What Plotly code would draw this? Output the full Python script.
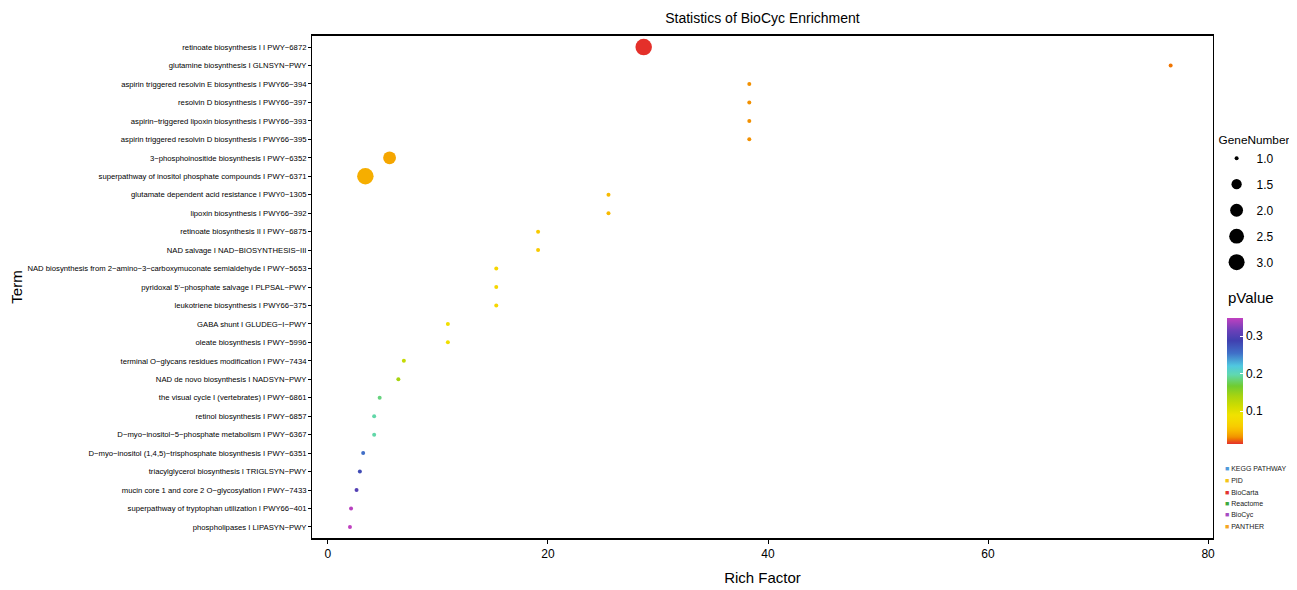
import plotly.graph_objects as go
import math

terms = [
    "retinoate biosynthesis I I PWY−6872",
    "glutamine biosynthesis I GLNSYN−PWY",
    "aspirin triggered resolvin E biosynthesis I PWY66−394",
    "resolvin D biosynthesis I PWY66−397",
    "aspirin−triggered lipoxin biosynthesis I PWY66−393",
    "aspirin triggered resolvin D biosynthesis I PWY66−395",
    "3−phosphoinositide biosynthesis I PWY−6352",
    "superpathway of inositol phosphate compounds I PWY−6371",
    "glutamate dependent acid resistance I PWY0−1305",
    "lipoxin biosynthesis I PWY66−392",
    "retinoate biosynthesis II I PWY−6875",
    "NAD salvage I NAD−BIOSYNTHESIS−III",
    "NAD biosynthesis from 2−amino−3−carboxymuconate semialdehyde I PWY−5653",
    "pyridoxal 5'−phosphate salvage I PLPSAL−PWY",
    "leukotriene biosynthesis I PWY66−375",
    "GABA shunt I GLUDEG−I−PWY",
    "oleate biosynthesis I PWY−5996",
    "terminal O−glycans residues modification I PWY−7434",
    "NAD de novo biosynthesis I NADSYN−PWY",
    "the visual cycle I (vertebrates) I PWY−6861",
    "retinol biosynthesis I PWY−6857",
    "D−myo−inositol−5−phosphate metabolism I PWY−6367",
    "D−myo−inositol (1,4,5)−trisphosphate biosynthesis I PWY−6351",
    "triacylglycerol biosynthesis I TRIGLSYN−PWY",
    "mucin core 1 and core 2 O−glycosylation I PWY−7433",
    "superpathway of tryptophan utilization I PWY66−401",
    "phospholipases I LIPASYN−PWY",
]
rich_factor = [28.7, 76.6, 38.3, 38.3, 38.3, 38.3, 5.6, 3.4, 25.5, 25.5,
               19.1, 19.1, 15.3, 15.3, 15.3, 10.9, 10.9, 6.9, 6.4, 4.7,
               4.2, 4.2, 3.2, 2.9, 2.6, 2.1, 2.0]
gene_number = [3, 1, 1, 1, 1, 1, 2, 3, 1, 1,
               1, 1, 1, 1, 1, 1, 1, 1, 1, 1,
               1, 1, 1, 1, 1, 1, 1]
p_value = [0.012, 0.025, 0.03, 0.03, 0.03, 0.03, 0.038, 0.042, 0.048, 0.048,
           0.058, 0.058, 0.07, 0.07, 0.07, 0.085, 0.085, 0.12, 0.14, 0.185,
           0.195, 0.195, 0.255, 0.28, 0.3, 0.345, 0.348]

size_breaks = [1.0, 1.5, 2.0, 2.5, 3.0]
databases = ["KEGG PATHWAY", "PID", "BioCarta", "Reactome", "BioCyc", "PANTHER"]
db_colors = ["#4F9ADA", "#F5C518", "#E3342F", "#3DAA3D", "#A64CC2", "#F5A623"]

def diam(g):
    return 4 + 12.5 * math.sqrt((g - 1) / 2.0)

colorscale = [
    [0.000, "#E4302A"],
    [0.025, "#EC5A18"],
    [0.040, "#F07800"],
    [0.055, "#F29200"],
    [0.080, "#F5A800"],
    [0.110, "#F8BC00"],
    [0.140, "#F8CC00"],
    [0.180, "#F5D800"],
    [0.230, "#F0E200"],
    [0.300, "#D0DC00"],
    [0.380, "#A8D410"],
    [0.460, "#70CC30"],
    [0.550, "#60D8B0"],
    [0.620, "#50C8E0"],
    [0.720, "#4070C8"],
    [0.820, "#4040B0"],
    [0.900, "#6A40B8"],
    [1.000, "#C040C0"],
]

FONT = "Liberation Sans, Arial, sans-serif"

fig = go.Figure()
fig.add_trace(go.Scatter(
    x=rich_factor, y=terms, mode="markers", showlegend=False,
    marker=dict(size=[diam(g) for g in gene_number], color=p_value,
                colorscale=colorscale, cmin=0.012, cmax=0.348, opacity=1,
                line=dict(width=0),
                colorbar=dict(tickvals=[0.1, 0.2, 0.3], ticktext=["0.1", "0.2", "0.3"],
                              thickness=16, lenmode="pixels", len=126,
                              x=1.016, xanchor="left", xpad=0,
                              y=0.3127, yanchor="middle", ypad=0, outlinewidth=0,
                              ticks="inside", ticklen=3, tickcolor="white",
                              tickfont=dict(size=12, family=FONT))),
))

for i, b in enumerate(size_breaks):
    fig.add_trace(go.Scatter(
        x=[None], y=[None], mode="markers", name=f"{b:.1f}",
        marker=dict(size=diam(b), color="black"), legend="legend",
        legendgroup=f"g{i}",
    ))

annotations = [dict(
    xref="paper", yref="paper", x=1.014, y=(538 - 297) / 502.0,
    xanchor="left", yanchor="middle", showarrow=False, text="pValue",
    font=dict(size=15, family=FONT, color="black"),
)]
for i, (name, col) in enumerate(zip(databases, db_colors)):
    annotations.append(dict(
        xref="paper", yref="paper", x=1.011, y=0.138 - i * 0.0232,
        xanchor="left", yanchor="middle", showarrow=False,
        text=f'<span style="color:{col}">■</span> {name}',
        font=dict(size=7, family=FONT, color="#222222"),
    ))

fig.update_layout(
    width=1289, height=582,
    margin=dict(l=304, r=84, t=28, b=52, autoexpand=False),
    paper_bgcolor="white", plot_bgcolor="white",
    font=dict(family=FONT, color="black"),
    title=dict(text="Statistics of BioCyc Enrichment", x=0.5853, xanchor="center",
               y=0.983, yanchor="middle", font=dict(size=14)),
    xaxis=dict(range=[-1.45, 80.45], tickvals=[0, 20, 40, 60, 80],
               showgrid=False, zeroline=False, showline=True, linecolor="black",
               linewidth=1.5, mirror=True, ticks="outside", ticklen=4,
               tickcolor="black", tickfont=dict(size=12), automargin=False,
               title=dict(text="Rich Factor", font=dict(size=15), standoff=12)),
    yaxis=dict(categoryorder="array", categoryarray=terms,
               range=[26.6, -0.6], showgrid=False, zeroline=False,
               showline=True, linecolor="black", linewidth=1, mirror=True,
               ticks="outside", ticklen=3, tickcolor="black",
               tickfont=dict(size=7.7), automargin=False,
               title=dict(text="Term", font=dict(size=15), standoff=6)),
    legend=dict(title=dict(text="GeneNumber", font=dict(size=11.8)),
                x=1.004, y=0.816, xanchor="left", yanchor="top",
                itemsizing="trace", tracegroupgap=7,
                font=dict(size=12), bgcolor="rgba(0,0,0,0)"),
    annotations=annotations,
)

fig.write_html("out.html")
